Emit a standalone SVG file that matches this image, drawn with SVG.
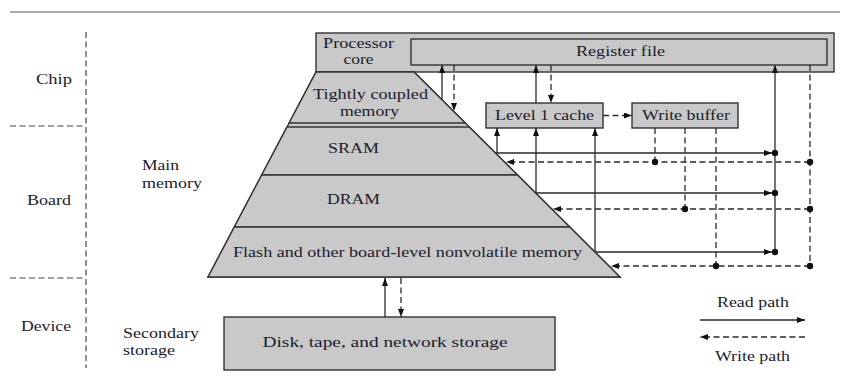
<svg xmlns="http://www.w3.org/2000/svg" width="842" height="383" viewBox="0 0 842 383">
<style>
text{font-family:"Liberation Serif","Times New Roman",serif;font-size:15px;fill:#1c1c2c}
.c{text-anchor:middle}
.box{fill:#c9c9c9;stroke:#333;stroke-width:1.4}
.ln{fill:none;stroke:#2a2a2a;stroke-width:1.3}
.ds{fill:none;stroke:#2a2a2a;stroke-width:1.3;stroke-dasharray:6 3.5}
.zone{fill:none;stroke:#444;stroke-width:1.2;stroke-dasharray:6 3.5}
.dot{fill:#111}
</style>
<defs>
<marker id="ah" markerUnits="userSpaceOnUse" markerWidth="8" markerHeight="6" refX="8" refY="3" orient="auto">
<path d="M0,0 L8,3 L0,6 z" fill="#111"/>
</marker>
</defs>
<rect width="842" height="383" fill="#fff"/>
<line x1="10" y1="12" x2="840" y2="12" stroke="#555" stroke-width="1.2"/>

<g id="zones">
<line class="zone" x1="86" y1="32" x2="86" y2="368"/>
<line class="zone" x1="10" y1="126" x2="86" y2="126"/>
<line class="zone" x1="10" y1="278" x2="86" y2="278"/>
<text class="c" x="54" y="84" textLength="36" lengthAdjust="spacingAndGlyphs">Chip</text>
<text class="c" x="49" y="205" textLength="44" lengthAdjust="spacingAndGlyphs">Board</text>
<text class="c" x="46" y="331" textLength="50" lengthAdjust="spacingAndGlyphs">Device</text>
<text x="142" y="170" textLength="37" lengthAdjust="spacingAndGlyphs">Main</text>
<text x="142" y="188" textLength="60" lengthAdjust="spacingAndGlyphs">memory</text>
<text x="123" y="338" textLength="76" lengthAdjust="spacingAndGlyphs">Secondary</text>
<text x="123" y="355" textLength="52" lengthAdjust="spacingAndGlyphs">storage</text>
</g>

<g id="processor-core">
<rect class="box" x="316" y="33" width="518" height="39"/>
<text class="c" x="358.5" y="48" textLength="71" lengthAdjust="spacingAndGlyphs">Processor</text>
<text class="c" x="358.5" y="64" textLength="30" lengthAdjust="spacingAndGlyphs">core</text>
</g>
<g id="register-file">
<rect class="box" x="411" y="39" width="416" height="26"/>
<text class="c" x="620.5" y="56" textLength="89" lengthAdjust="spacingAndGlyphs">Register file</text>
</g>

<g id="main-memory">
<polygon class="box" points="316,72 414,72 620,277 208,277"/>
</g>
<g id="tightly-coupled-memory">
<polygon class="box" points="316,72 414,72 465.3,123 289.1,123"/>
<text class="c" x="370.5" y="99" textLength="115" lengthAdjust="spacingAndGlyphs">Tightly coupled</text>
<text class="c" x="369.5" y="116" textLength="59" lengthAdjust="spacingAndGlyphs">memory</text>
</g>
<g id="sram">
<polygon class="box" points="287,127 469.3,127 517.5,175 261.7,175"/>
<text class="c" x="353.5" y="153" textLength="51" lengthAdjust="spacingAndGlyphs">SRAM</text>
</g>
<g id="dram">
<polygon class="box" points="261.7,175 517.5,175 569.8,227 234.3,227"/>
<text class="c" x="353.5" y="204" textLength="53" lengthAdjust="spacingAndGlyphs">DRAM</text>
</g>
<g id="flash">
<polygon class="box" points="234.3,227 569.8,227 620,277 208,277"/>
<text class="c" x="407.5" y="257" textLength="349" lengthAdjust="spacingAndGlyphs">Flash and other board-level nonvolatile memory</text>
</g>

<g id="level1-cache">
<rect class="box" x="486" y="103" width="117" height="25"/>
<text class="c" x="544.5" y="120" textLength="99" lengthAdjust="spacingAndGlyphs">Level 1 cache</text>
</g>
<g id="write-buffer">
<rect class="box" x="632" y="103" width="106" height="25"/>
<text class="c" x="686" y="120" textLength="88" lengthAdjust="spacingAndGlyphs">Write buffer</text>
</g>

<g id="secondary-storage">
<rect class="box" x="224" y="317" width="331" height="53"/>
<text class="c" x="385" y="347" textLength="245" lengthAdjust="spacingAndGlyphs">Disk, tape, and network storage</text>
</g>

<g id="connectors">
<line class="ln" x1="442" y1="100" x2="442" y2="65" marker-end="url(#ah)"/>
<line class="ds" x1="454" y1="65" x2="454" y2="111" marker-end="url(#ah)"/>
<line class="ln" x1="536" y1="103" x2="536" y2="65" marker-end="url(#ah)"/>
<line class="ds" x1="551" y1="65" x2="551" y2="103" marker-end="url(#ah)"/>
<line class="ds" x1="603" y1="115.5" x2="632" y2="115.5" marker-end="url(#ah)"/>

<line class="ln" x1="495.5" y1="153" x2="772" y2="153" marker-end="url(#ah)"/>
<line class="ln" x1="497" y1="153" x2="497" y2="128" marker-end="url(#ah)"/>
<line class="ln" x1="535.6" y1="193" x2="772" y2="193" marker-end="url(#ah)"/>
<line class="ln" x1="536" y1="193" x2="536" y2="128" marker-end="url(#ah)"/>
<line class="ln" x1="595" y1="252" x2="772" y2="252" marker-end="url(#ah)"/>
<line class="ln" x1="595" y1="252" x2="595" y2="128" marker-end="url(#ah)"/>
<line class="ln" x1="775" y1="252" x2="775" y2="65" marker-end="url(#ah)"/>

<line class="ds" x1="810" y1="65" x2="810" y2="266"/>
<line class="ds" x1="810" y1="162" x2="506" y2="162" marker-end="url(#ah)"/>
<line class="ds" x1="810" y1="209" x2="553" y2="209" marker-end="url(#ah)"/>
<line class="ds" x1="810" y1="266" x2="611" y2="266" marker-end="url(#ah)"/>
<line class="ds" x1="655" y1="128" x2="655" y2="162"/>
<line class="ds" x1="685" y1="128" x2="685" y2="209"/>
<line class="ds" x1="716" y1="128" x2="716" y2="266"/>

<circle class="dot" cx="775" cy="153" r="3.2"/>
<circle class="dot" cx="775" cy="193" r="3.2"/>
<circle class="dot" cx="775" cy="252" r="3.2"/>
<circle class="dot" cx="810" cy="162" r="3.2"/>
<circle class="dot" cx="810" cy="209" r="3.2"/>
<circle class="dot" cx="810" cy="266" r="3.2"/>
<circle class="dot" cx="655" cy="162" r="3.2"/>
<circle class="dot" cx="685" cy="209" r="3.2"/>
<circle class="dot" cx="716" cy="266" r="3.2"/>

<line class="ln" x1="385" y1="317" x2="385" y2="278" marker-end="url(#ah)"/>
<line class="ds" x1="401" y1="278" x2="401" y2="317" marker-end="url(#ah)"/>
</g>

<g id="legend">
<text class="c" x="753" y="307" textLength="72" lengthAdjust="spacingAndGlyphs">Read path</text>
<line class="ln" x1="700" y1="320" x2="805" y2="320" marker-end="url(#ah)"/>
<line class="ds" x1="805" y1="337" x2="700" y2="337" marker-end="url(#ah)"/>
<text class="c" x="752.5" y="361" textLength="75" lengthAdjust="spacingAndGlyphs">Write path</text>
</g>
</svg>
